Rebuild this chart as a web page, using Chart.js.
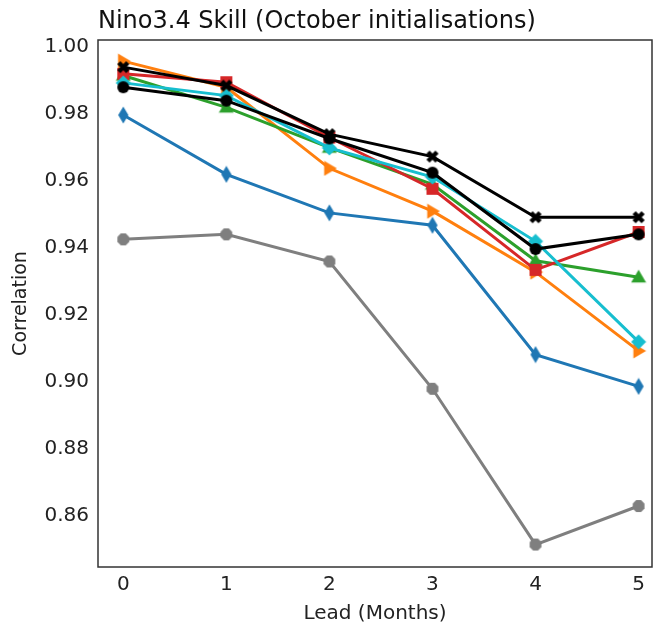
<!DOCTYPE html>
<html>
<head>
<meta charset="utf-8">
<script src="https://cdn.jsdelivr.net/npm/chart.js@4.4.1/dist/chart.umd.min.js"></script>
<style>
  html, body { margin: 0; padding: 0; background: #fff; }
  #wrap { width: 654px; height: 626px; }
</style>
</head>
<body>
<div id="wrap"><canvas id="skillChart" width="654" height="626"></canvas></div>
<script>
// Lead times (months)
const leads = [0, 1, 2, 3, 4, 5];
const yTicks = [0.86, 0.88, 0.90, 0.92, 0.94, 0.96, 0.98, 1.00];

// Correlation per lead
const blueSkill   = [0.9797, 0.9620, 0.9505, 0.9468, 0.9082, 0.8987];
const orangeSkill = [0.9958, 0.9880, 0.9638, 0.9510, 0.9328, 0.9093];
const greenSkill  = [0.9915, 0.9820, 0.9700, 0.9590, 0.9362, 0.9313];
const redSkill    = [0.9920, 0.9895, 0.9730, 0.9577, 0.9335, 0.9448];
const greySkill   = [0.9426, 0.9441, 0.9360, 0.8980, 0.8515, 0.8630];
const cyanSkill   = [0.9893, 0.9855, 0.9699, 0.9612, 0.9420, 0.9120];
const blackXSkill = [0.9940, 0.9885, 0.9740, 0.9673, 0.9492, 0.9492];
const blackOSkill = [0.9880, 0.9840, 0.9727, 0.9625, 0.9397, 0.9441];

const FONT = "'DejaVu Sans', sans-serif";

// draw a matplotlib-like marker into a small canvas
function makeMarker(shape, color, size) {
    const c = document.createElement('canvas');
    c.width = size; c.height = size;
    const g = c.getContext('2d');
    const m = size / 2;
    const r = size / 2 - 0.5;
    g.fillStyle = color;
    g.beginPath();
    if (shape === 'thin_diamond') {
        g.moveTo(m, m - r); g.lineTo(m + r * 0.6, m); g.lineTo(m, m + r); g.lineTo(m - r * 0.6, m);
    } else if (shape === 'diamond') {
        g.moveTo(m, m - r); g.lineTo(m + r, m); g.lineTo(m, m + r); g.lineTo(m - r, m);
    } else if (shape === 'tri_right') {
        g.moveTo(m + r, m); g.lineTo(m - r * 0.7, m - r); g.lineTo(m - r * 0.7, m + r);
    } else if (shape === 'tri_up') {
        g.moveTo(m, m - r); g.lineTo(m + r, m + r * 0.7); g.lineTo(m - r, m + r * 0.7);
    } else if (shape === 'square') {
        const s = r * 0.8;
        g.rect(m - s, m - s, 2 * s, 2 * s);
    } else if (shape === 'octagon') {
        const s = r * 0.85;
        for (let i = 0; i < 8; i++) {
            const a = Math.PI / 8 + i * Math.PI / 4;
            g.lineTo(m + s * Math.cos(a), m + s * Math.sin(a));
        }
    } else if (shape === 'xfilled') {
        const s = r * 0.85, w = r * 0.3;
        g.translate(m, m); g.rotate(Math.PI / 4);
        g.rect(-s, -w, 2 * s, 2 * w);
        g.rect(-w, -s, 2 * w, 2 * s);
    } else {
        g.arc(m, m, r * 0.8, 0, Math.PI * 2);
    }
    g.closePath();
    g.fill();
    return c;
}

function series(values, color, shape, size, idx) {
    return {
        data: values.map((v, i) => ({ x: leads[i], y: v })),
        borderColor: color,
        backgroundColor: color,
        borderWidth: 3,
        pointStyle: makeMarker(shape, color, size),
        pointRadius: size / 2,
        tension: 0,
        order: 10 - idx
    };
}

const datasets = [
    series(blueSkill,   '#1f77b4', 'thin_diamond', 18, 0),
    series(orangeSkill, '#ff7f0e', 'tri_right', 16, 1),
    series(greenSkill,  '#2ca02c', 'tri_up', 16, 2),
    series(redSkill,    '#d62728', 'square', 16, 3),
    series(greySkill,   '#7f7f7f', 'octagon', 16, 4),
    series(cyanSkill,   '#17becf', 'diamond', 16, 5),
    series(blackXSkill, '#000000', 'xfilled', 16, 6),
    series(blackOSkill, '#000000', 'circle', 16, 7)
];

// title at the left edge of the plot area, plus the axes frame
const titlePlugin = {
    id: 'mplTitle',
    afterDraw(chart) {
        const g = chart.ctx;
        const a = chart.chartArea;
        g.save();
        g.font = '24px ' + FONT;
        g.fillStyle = '#111';
        g.textBaseline = 'alphabetic';
        g.fillText('Nino3.4 Skill (October initialisations)', a.left, 28);
        g.strokeStyle = '#333';
        g.lineWidth = 1.5;
        g.strokeRect(a.left, a.top, a.right - a.left, a.bottom - a.top);
        g.restore();
    }
};

new Chart(document.getElementById('skillChart'), {
    type: 'line',
    data: { datasets: datasets },
    plugins: [titlePlugin],
    options: {
        responsive: false,
        animation: false,
        layout: { autoPadding: false, padding: { top: 40, right: 2, bottom: 0, left: 0 } },
        plugins: { legend: { display: false }, tooltip: { enabled: false } },
        scales: {
            x: {
                type: 'linear',
                min: -0.245,
                max: 5.13,
                afterBuildTicks(scale) { scale.ticks = leads.map(v => ({ value: v })); },
                afterFit(scale) { scale.height = 59; },
                grid: { display: false, drawTicks: true, tickLength: 5, tickColor: '#333' },
                border: { display: false },
                ticks: { color: '#222', font: { family: FONT, size: 20 }, padding: 1, maxRotation: 0,
                         callback: v => String(v) },
                title: { display: true, text: 'Lead (Months)', color: '#222',
                         font: { family: FONT, size: 20 }, padding: { top: 3, bottom: 0 } }
            },
            y: {
                min: 0.8448,
                max: 1.0021,
                afterBuildTicks(scale) { scale.ticks = yTicks.map(v => ({ value: v })); },
                afterFit(scale) { scale.width = 98; },
                grid: { display: false, drawTicks: true, tickLength: 5, tickColor: '#333' },
                border: { display: false },
                ticks: { color: '#222', font: { family: FONT, size: 20 }, padding: 4,
                         callback: v => v.toFixed(2) },
                title: { display: true, text: 'Correlation', color: '#222',
                         font: { family: FONT, size: 19 }, padding: { top: 10, bottom: 0 } }
            }
        }
    }
});
</script>
</body>
</html>
